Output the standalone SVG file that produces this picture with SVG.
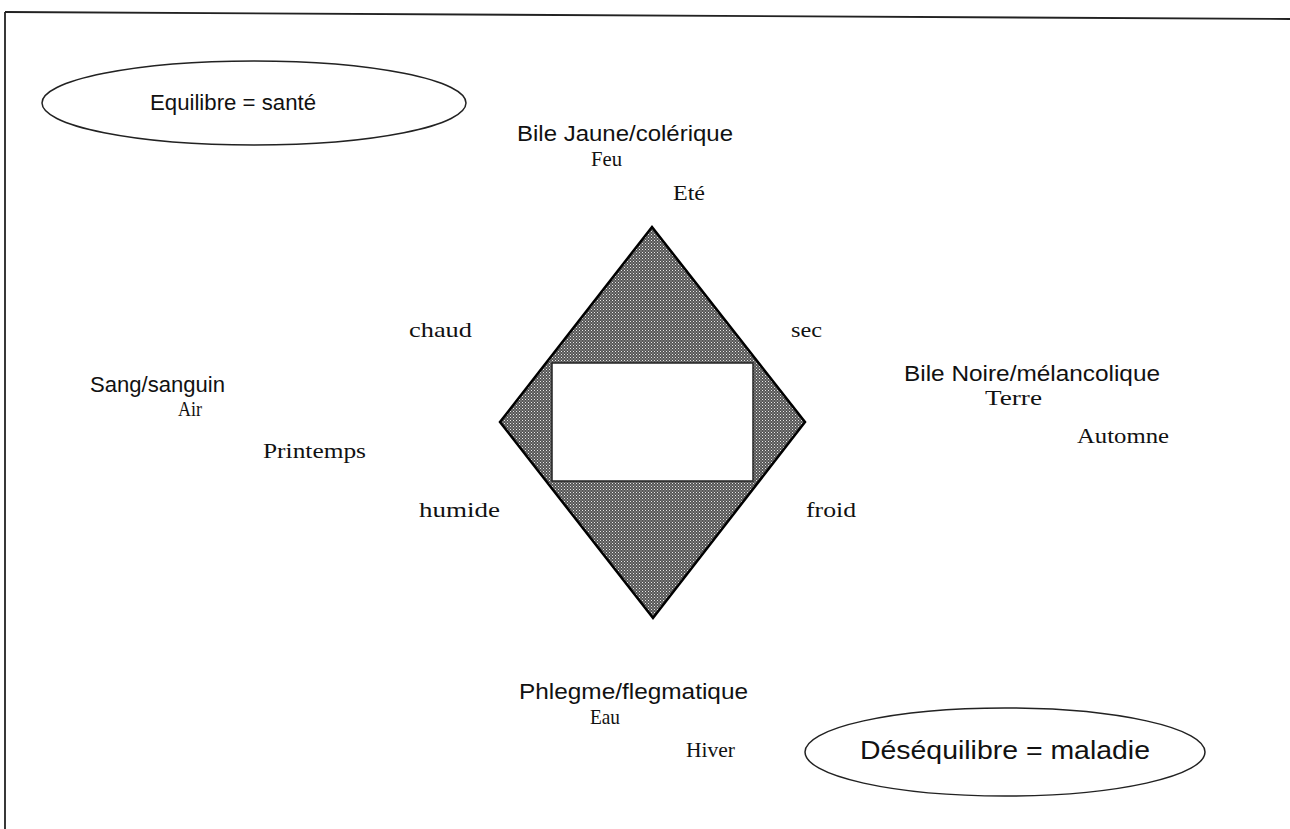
<svg xmlns="http://www.w3.org/2000/svg" width="1290" height="829" viewBox="0 0 1290 829">
<style>
.sans{font-family:"Liberation Sans",Arial,sans-serif;fill:#111}
.serif{font-family:"Liberation Serif","Times New Roman",serif;fill:#111}
.lab{font-size:22px}
.el{font-size:22px}
.el2{font-size:26px}
.ser{font-size:21px}
.ell{fill:none;stroke:#222;stroke-width:1.5}
</style>
<defs>
<pattern id="dith" width="3" height="3" patternUnits="userSpaceOnUse">
<rect width="3" height="3" fill="#555"/>
<rect x="0" y="0" width="1" height="1" fill="#e8e8e8"/>
<rect x="1.5" y="1.5" width="1" height="1" fill="#c0c0c0"/>
</pattern>
</defs>
<rect width="1290" height="829" fill="#fff"/>
<g id="frame" fill="none" stroke="#222" stroke-width="1.8">
<path d="M5,12 L1290,19"/>
<path d="M5,12 L5,829"/>
</g>
<g id="equilibre">
<ellipse class="ell" cx="254" cy="103" rx="212" ry="42"/>
<text class="sans el" x="150" y="110" textLength="166" lengthAdjust="spacingAndGlyphs">Equilibre = santé</text>
</g>
<g id="desequilibre">
<ellipse class="ell" cx="1005" cy="752" rx="200" ry="44"/>
<text class="sans el2" x="860" y="759" textLength="290" lengthAdjust="spacingAndGlyphs">Déséquilibre = maladie</text>
</g>
<g id="diamond">
<polygon points="652,227 805,422 653,618 500,422" fill="url(#dith)" stroke="#000" stroke-width="2.5" stroke-linejoin="miter"/>
<rect x="552" y="363" width="201" height="118" fill="#fff" stroke="#222" stroke-width="1.5"/>
</g>
<g id="bile-jaune">
<text class="sans lab" x="517" y="141" textLength="216" lengthAdjust="spacingAndGlyphs">Bile Jaune/colérique</text>
<text class="serif ser" x="591" y="166" textLength="31" lengthAdjust="spacingAndGlyphs">Feu</text>
<text class="serif ser" x="673" y="200" textLength="32" lengthAdjust="spacingAndGlyphs">Eté</text>
</g>
<g id="sang">
<text class="sans lab" x="90" y="392" textLength="135" lengthAdjust="spacingAndGlyphs">Sang/sanguin</text>
<text class="serif ser" x="178" y="416" textLength="24" lengthAdjust="spacingAndGlyphs">Air</text>
<text class="serif ser" x="263" y="458" textLength="103" lengthAdjust="spacingAndGlyphs">Printemps</text>
</g>
<g id="bile-noire">
<text class="sans lab" x="904" y="381" textLength="256" lengthAdjust="spacingAndGlyphs">Bile Noire/mélancolique</text>
<text class="serif ser" x="985" y="405" textLength="57" lengthAdjust="spacingAndGlyphs">Terre</text>
<text class="serif ser" x="1077" y="443" textLength="92" lengthAdjust="spacingAndGlyphs">Automne</text>
</g>
<g id="phlegme">
<text class="sans lab" x="519" y="699" textLength="229" lengthAdjust="spacingAndGlyphs">Phlegme/flegmatique</text>
<text class="serif ser" x="590" y="724" textLength="30" lengthAdjust="spacingAndGlyphs">Eau</text>
<text class="serif ser" x="686" y="757" textLength="49" lengthAdjust="spacingAndGlyphs">Hiver</text>
</g>
<g id="qualities">
<text class="serif ser" x="409" y="337" textLength="63" lengthAdjust="spacingAndGlyphs">chaud</text>
<text class="serif ser" x="791" y="337" textLength="31" lengthAdjust="spacingAndGlyphs">sec</text>
<text class="serif ser" x="419" y="517" textLength="81" lengthAdjust="spacingAndGlyphs">humide</text>
<text class="serif ser" x="806" y="517" textLength="50" lengthAdjust="spacingAndGlyphs">froid</text>
</g>
</svg>
